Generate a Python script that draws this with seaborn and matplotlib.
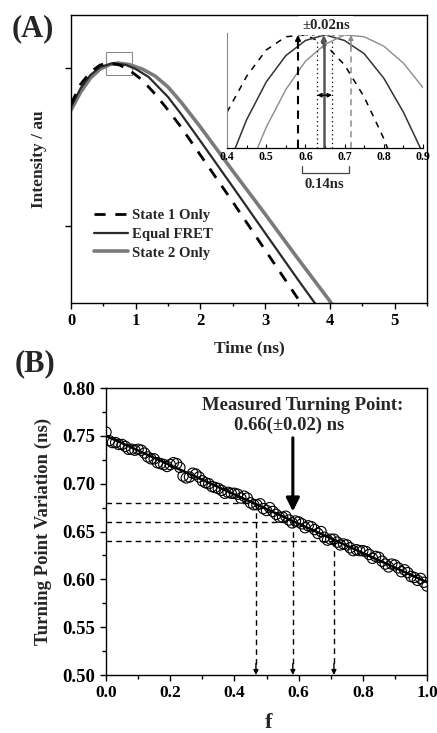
"""Two-panel figure: fluorescence decay turning point (A) and its variation with f (B)."""

import matplotlib

matplotlib.use("Agg")
import matplotlib.pyplot as plt
from matplotlib.lines import Line2D
from matplotlib.patches import Rectangle
from matplotlib.ticker import FixedLocator, FormatStrFormatter, MultipleLocator, NullFormatter, NullLocator
import seaborn as sns

# ---- panel A: decay curves (intensity on log axis) ----
STATE1_TIME = [0.0, 0.15, 0.3, 0.45, 0.58, 0.75, 0.9, 1.1, 1.3, 1.5, 1.7, 2.0, 2.5, 3.0, 3.5, 3.6]
STATE1_INTENSITY = [0.592, 0.792, 0.943, 1.045, 1.075, 1.045, 0.971, 0.840, 0.684, 0.542, 0.423, 0.281,
                    0.142, 0.0705, 0.0350, 0.030]

EQUAL_TIME = [0.0, 0.15, 0.3, 0.45, 0.65, 0.85, 1.0, 1.2, 1.5, 1.7, 2.0, 2.5, 3.0, 3.5, 3.8]
EQUAL_INTENSITY = [0.567, 0.747, 0.903, 1.015, 1.075, 1.045, 0.986, 0.877, 0.655, 0.512, 0.345, 0.177,
                   0.0903, 0.0462, 0.0312]

STATE2_TIME = [0.0, 0.15, 0.3, 0.45, 0.6, 0.72, 0.9, 1.1, 1.3, 1.5, 1.7, 2.0, 2.5, 3.0, 3.5, 4.0, 4.1]
STATE2_INTENSITY = [0.542, 0.705, 0.864, 0.986, 1.052, 1.075, 1.052, 0.986, 0.890, 0.758, 0.609, 0.423,
                    0.223, 0.119, 0.0627, 0.0335, 0.029]

# inset: zoom on the peak (normalised)
INSET_TIME = [0.40, 0.45, 0.50, 0.55, 0.60, 0.65, 0.70, 0.75, 0.80, 0.85, 0.90]
INSET_STATE1 = [0.959, 0.978, 0.992, 0.999, 1.000, 0.995, 0.984, 0.967, 0.945, 0.918, 0.885]
INSET_EQUAL = [0.929, 0.955, 0.975, 0.989, 0.997, 1.000, 0.997, 0.990, 0.977, 0.959, 0.937]
INSET_STATE2 = [0.900, 0.926, 0.951, 0.971, 0.986, 0.995, 1.000, 0.999, 0.994, 0.985, 0.972]
PEAK_TIMES = [0.581, 0.647, 0.716]
ERROR_BOUNDS = [0.630, 0.668]

# ---- panel B: turning point vs f ----
F_VALUES = [
    0.00, 0.01, 0.02, 0.03, 0.04, 0.05, 0.06, 0.07, 0.08, 0.09,
    0.10, 0.11, 0.12, 0.13, 0.14, 0.15, 0.16, 0.17, 0.18, 0.19,
    0.20, 0.21, 0.22, 0.23, 0.24, 0.25, 0.26, 0.27, 0.28, 0.29,
    0.30, 0.31, 0.32, 0.33, 0.34, 0.35, 0.36, 0.37, 0.38, 0.39,
    0.40, 0.41, 0.42, 0.43, 0.44, 0.45, 0.46, 0.47, 0.48, 0.49,
    0.50, 0.51, 0.52, 0.53, 0.54, 0.55, 0.56, 0.57, 0.58, 0.59,
    0.60, 0.61, 0.62, 0.63, 0.64, 0.65, 0.66, 0.67, 0.68, 0.69,
    0.70, 0.71, 0.72, 0.73, 0.74, 0.75, 0.76, 0.77, 0.78, 0.79,
    0.80, 0.81, 0.82, 0.83, 0.84, 0.85, 0.86, 0.87, 0.88, 0.89,
    0.90, 0.91, 0.92, 0.93, 0.94, 0.95, 0.96, 0.97, 0.98, 0.99,
    1.00,
]
TURNING_POINT = [
    0.754, 0.745, 0.743, 0.743, 0.741, 0.741, 0.739, 0.736, 0.736, 0.735,
    0.736, 0.735, 0.732, 0.728, 0.726, 0.726, 0.722, 0.721, 0.720, 0.718,
    0.720, 0.722, 0.721, 0.717, 0.708, 0.706, 0.707, 0.711, 0.710, 0.707,
    0.703, 0.701, 0.700, 0.697, 0.696, 0.695, 0.693, 0.690, 0.691, 0.690,
    0.690, 0.689, 0.685, 0.687, 0.685, 0.680, 0.678, 0.678, 0.679, 0.674,
    0.672, 0.675, 0.671, 0.668, 0.665, 0.665, 0.666, 0.662, 0.659, 0.661,
    0.660, 0.658, 0.654, 0.656, 0.655, 0.652, 0.648, 0.650, 0.644, 0.641,
    0.642, 0.642, 0.639, 0.636, 0.637, 0.636, 0.633, 0.630, 0.631, 0.630,
    0.630, 0.629, 0.626, 0.622, 0.624, 0.623, 0.619, 0.616, 0.613, 0.616,
    0.615, 0.612, 0.608, 0.610, 0.607, 0.603, 0.602, 0.599, 0.601, 0.597,
    0.593,
]
FIT_F = [0.0, 1.0]
FIT_TP = [0.750, 0.597]
GUIDE_F = [0.467, 0.582, 0.710]
GUIDE_TP = [0.68, 0.66, 0.64]

sns.set_theme(style="ticks")
plt.rcParams["font.family"] = ["Liberation Serif", "DejaVu Serif"]
plt.rcParams["font.weight"] = "bold"
plt.rcParams["axes.labelweight"] = "bold"
plt.rcParams["axes.edgecolor"] = "black"
plt.rcParams["xtick.color"] = "black"
plt.rcParams["ytick.color"] = "black"

fig = plt.figure(figsize=(4.37, 7.33), dpi=100)

# ================= panel A =================
ax_a = fig.add_axes([0.1625, 0.5866, 0.8146, 0.3929])
sns.lineplot(x=STATE2_TIME, y=STATE2_INTENSITY, ax=ax_a, color="#7a7a7a", lw=2.6, errorbar=None)
sns.lineplot(x=EQUAL_TIME, y=EQUAL_INTENSITY, ax=ax_a, color="#2a2a2a", lw=1.6, errorbar=None)
sns.lineplot(x=STATE1_TIME, y=STATE1_INTENSITY, ax=ax_a, color="black", lw=2.0,
             linestyle=(0, (4, 3.5)), errorbar=None)
ax_a.set_yscale("log")
ax_a.set_xlim(0, 5.5)
ax_a.set_ylim(0.0326, 2.165)
ax_a.xaxis.set_major_locator(MultipleLocator(1))
ax_a.xaxis.set_minor_locator(MultipleLocator(0.5))
ax_a.yaxis.set_major_locator(FixedLocator([0.1, 1.0]))
ax_a.yaxis.set_minor_locator(NullLocator())
ax_a.yaxis.set_major_formatter(NullFormatter())
ax_a.tick_params(axis="x", which="major", direction="out", length=4, width=1, labelsize=12, pad=3)
ax_a.tick_params(axis="x", which="minor", direction="out", length=2.5, width=1)
ax_a.tick_params(axis="y", which="major", direction="out", length=4, width=1)
for spine in ax_a.spines.values():
    spine.set_linewidth(1.0)
ax_a.add_patch(Rectangle((0.54, 0.903), 0.40, 1.26 - 0.903, fill=False, edgecolor="#8a8a8a", lw=0.8))

ax_a.set_xlabel("Time (ns)", fontsize=12.5)
ax_a.xaxis.label.set_va("center")
ax_a.xaxis.set_label_coords(0.5, -0.156)
ax_a.set_ylabel("Intensity / au", fontsize=12.5)
ax_a.yaxis.label.set_va("center")
ax_a.yaxis.set_label_coords(-0.09, 0.5)

legend_handles = [
    Line2D([], [], color="black", lw=2.0, linestyle=(0, (4, 3.5))),
    Line2D([], [], color="#2a2a2a", lw=1.6),
    Line2D([], [], color="#7a7a7a", lw=2.6),
]
ax_a.legend(legend_handles, ["State 1 Only", "Equal FRET", "State 2 Only"], loc="upper left",
            bbox_to_anchor=(0.065, 0.326), frameon=False, fontsize=10.6, handlelength=2.3,
            handletextpad=0.3, labelspacing=0.36, borderpad=0, borderaxespad=0)

# inset
ax_in = fig.add_axes([0.5195, 0.7981, 0.4485, 0.1569])
ax_in.set_facecolor("none")
sns.lineplot(x=INSET_TIME, y=INSET_STATE1, ax=ax_in, color="black", lw=1.1,
             linestyle=(0, (4, 4)), errorbar=None)
sns.lineplot(x=INSET_TIME, y=INSET_EQUAL, ax=ax_in, color="#333333", lw=1.1, errorbar=None)
sns.lineplot(x=INSET_TIME, y=INSET_STATE2, ax=ax_in, color="#8c8c8c", lw=1.0, errorbar=None)
ax_in.set_xlim(0.4, 0.9)
ax_in.set_ylim(0.94, 1.001)
ax_in.spines["top"].set_visible(False)
ax_in.spines["right"].set_visible(False)
ax_in.spines["left"].set_color("#888888")
ax_in.spines["left"].set_linewidth(0.8)
ax_in.spines["bottom"].set_linewidth(0.9)
ax_in.yaxis.set_major_locator(NullLocator())
ax_in.xaxis.set_major_locator(MultipleLocator(0.1))
ax_in.xaxis.set_minor_locator(MultipleLocator(0.05))
ax_in.xaxis.set_major_formatter(FormatStrFormatter("%.1f"))
ax_in.tick_params(axis="x", which="major", direction="in", length=3, width=0.8, labelsize=8.5, pad=2)
ax_in.tick_params(axis="x", which="minor", direction="in", length=2, width=0.8)

peak_styles = [
    dict(color="black", lw=1.5, linestyle=(0, (4, 3))),
    dict(color="#555555", lw=1.8, linestyle="-"),
    dict(color="#8c8c8c", lw=1.1, linestyle=(0, (4, 3))),
]
for t_peak, style in zip(PEAK_TIMES, peak_styles):
    ax_in.plot([t_peak, t_peak], [0.94, 0.995], **style)
    ax_in.annotate("", xy=(t_peak, 1.0), xytext=(t_peak, 0.993),
                   arrowprops=dict(arrowstyle="-|>", color=style["color"], lw=style["lw"],
                                   mutation_scale=7, shrinkA=0, shrinkB=0))
ax_in.plot([PEAK_TIMES[0], PEAK_TIMES[2]], [1.0, 1.0], color="#999999", lw=0.8,
           linestyle=(0, (3, 3)), clip_on=False)
for t_bound in ERROR_BOUNDS:
    ax_in.plot([t_bound, t_bound], [0.94, 0.998], color="black", lw=0.9, linestyle=(0, (1, 2.5)))
ax_in.annotate("", xy=(ERROR_BOUNDS[0], 0.968), xytext=(ERROR_BOUNDS[1], 0.968),
               arrowprops=dict(arrowstyle="<|-|>", color="black", lw=1.0, mutation_scale=6,
                               shrinkA=0, shrinkB=0))
ax_in.text(0.6526, 1.0052, "±0.02ns", ha="center", va="center", fontsize=10.6, fontweight="bold",
           bbox=dict(boxstyle="square,pad=0.2", fc="white", ec="none"), zorder=10, clip_on=False)
ax_in.plot([0.591, 0.591, 0.711, 0.711], [0.9302, 0.9267, 0.9267, 0.9302], color="#444444", lw=0.9,
           clip_on=False)
ax_in.text(0.648, 0.9204, "0.14ns", ha="center", va="center", fontsize=10.6, fontweight="bold")

fig.text(33 / 437, 1 - 29 / 733, "(A)", ha="center", va="center", fontsize=22, fontweight="bold")

# ================= panel B =================
ax_b = fig.add_axes([0.2426, 0.0791, 0.7346, 0.3915])
sns.scatterplot(x=F_VALUES, y=TURNING_POINT, ax=ax_b, marker="o", s=55, color="black",
                facecolor="none", edgecolor="black", linewidth=0.8, zorder=2)
sns.lineplot(x=FIT_F, y=FIT_TP, ax=ax_b, color="black", lw=1.8, errorbar=None, zorder=3)
ax_b.set_xlim(0, 1)
ax_b.set_ylim(0.5, 0.8)
ax_b.xaxis.set_major_locator(MultipleLocator(0.2))
ax_b.xaxis.set_minor_locator(MultipleLocator(0.1))
ax_b.yaxis.set_major_locator(MultipleLocator(0.05))
ax_b.yaxis.set_minor_locator(MultipleLocator(0.025))
ax_b.xaxis.set_major_formatter(FormatStrFormatter("%.1f"))
ax_b.yaxis.set_major_formatter(FormatStrFormatter("%.2f"))
ax_b.tick_params(axis="y", which="major", direction="out", length=4.5, width=1, labelsize=13.5, pad=3)
ax_b.tick_params(axis="x", which="major", direction="out", length=4.5, width=1, labelsize=12.5, pad=3)
ax_b.tick_params(which="minor", direction="out", length=2.7, width=1)
for spine in ax_b.spines.values():
    spine.set_linewidth(1.0)

for f_guide, tp_guide in zip(GUIDE_F, GUIDE_TP):
    ax_b.plot([0, f_guide], [tp_guide, tp_guide], color="black", lw=1.0, linestyle=(0, (4, 3)), zorder=1)
    ax_b.plot([f_guide, f_guide], [tp_guide, 0.51], color="black", lw=1.0, linestyle=(0, (4, 3)), zorder=1)
    ax_b.annotate("", xy=(f_guide, 0.50), xytext=(f_guide, 0.512),
                  arrowprops=dict(arrowstyle="-|>", color="black", lw=1.0, mutation_scale=7,
                                  shrinkA=0, shrinkB=0))

ax_b.annotate("", xy=(GUIDE_F[1], 0.671), xytext=(GUIDE_F[1], 0.748),
              arrowprops=dict(arrowstyle="-|>", color="black", lw=2.2, mutation_scale=20,
                              shrinkA=0, shrinkB=0), zorder=5)
ax_b.text(0.614, 0.782, "Measured Turning Point:", ha="center", va="center", fontsize=13.4,
          fontweight="bold")
ax_b.text(0.57, 0.761, "0.66(±0.02) ns", ha="center", va="center", fontsize=13.4, fontweight="bold")

ax_b.set_xlabel("f", fontsize=16)
ax_b.xaxis.label.set_va("center")
ax_b.xaxis.set_label_coords(0.505, -0.166)
ax_b.set_ylabel("Turning Point Variation (ns)", fontsize=13.5)
ax_b.yaxis.label.set_va("center")
ax_b.yaxis.set_label_coords(-0.195, 0.5)

fig.text(35 / 437, 1 - 364 / 733, "(B)", ha="center", va="center", fontsize=22, fontweight="bold")

fig.savefig("out.png", dpi=100, facecolor="white")
